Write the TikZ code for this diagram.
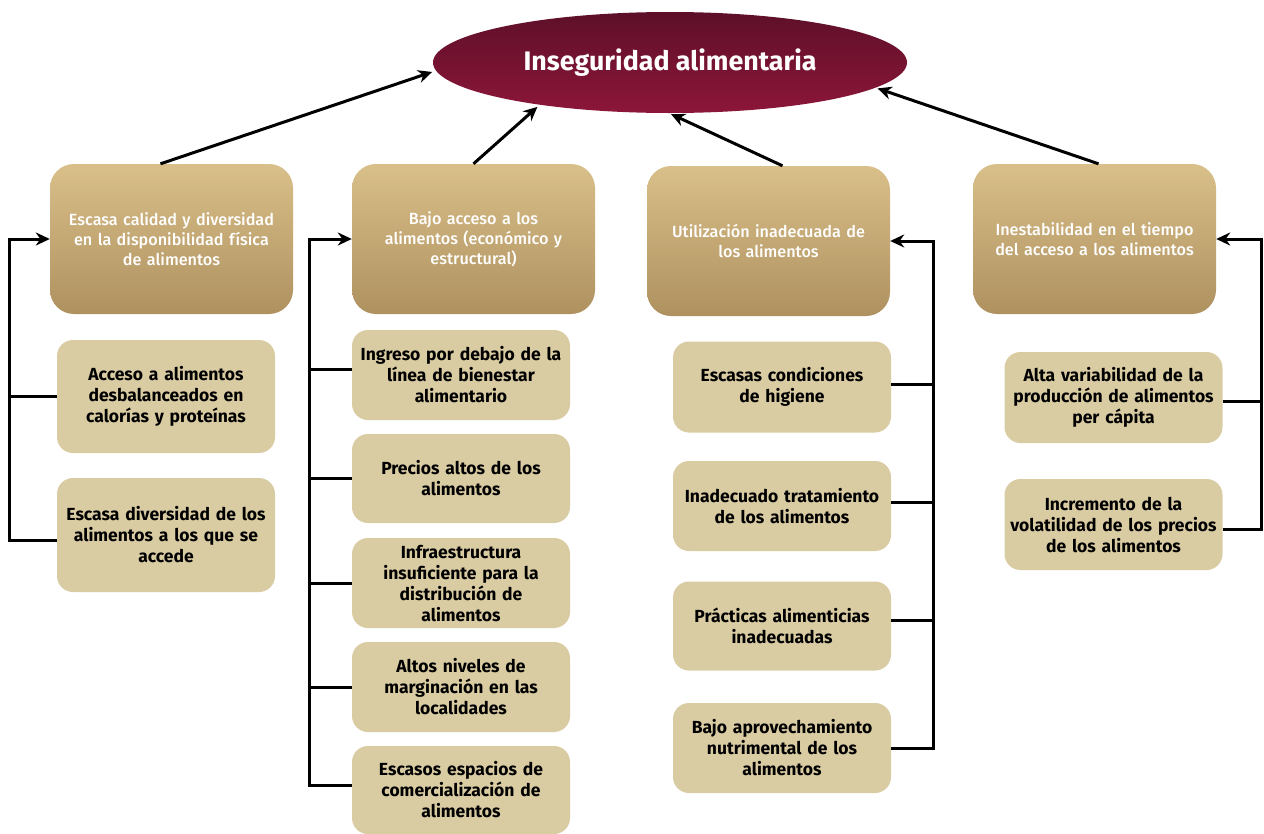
\documentclass[tikz,border=0pt]{standalone}
\usepackage{fontspec}
\setmainfont{Fira Sans}
\newfontfamily\hdfont{Fira Sans Medium}
\usetikzlibrary{arrows.meta,shapes.geometric}
\definecolor{hdtop}{HTML}{D9BF8A}
\definecolor{hdbot}{HTML}{AE915F}
\definecolor{chfill}{HTML}{D9CBA2}
\definecolor{eltop}{HTML}{5E1029}
\definecolor{elbot}{HTML}{8C1639}
\tikzset{
  header/.style={rounded corners=24pt, top color=hdtop, bottom color=hdbot, draw=none,
    minimum width=243pt, minimum height=150pt, text width=225pt, inner sep=0pt,
    align=center, text=white, font=\hdfont\fontsize{16.2}{20}\selectfont},
  child/.style={rounded corners=16pt, fill=chfill, draw=none,
    minimum width=218pt, text width=214pt, inner sep=0pt,
    align=center, text=black, font=\fontsize{17.5}{21}\selectfont\bfseries},
  arr/.style={line width=3pt, -{Stealth[length=14pt,width=13pt]}},
  ln/.style={line width=3pt},
}
\begin{document}
\begin{tikzpicture}[x=1pt,y=-1pt]
\useasboundingbox (0,0) rectangle (1264,833);
\fill[white] (0,0) rectangle (1264,833);
% title
\node[ellipse, top color=eltop, bottom color=elbot, minimum width=474pt, minimum height=101pt,
  inner sep=0pt, text=white, font=\fontsize{26.8}{30}\selectfont\bfseries] (E) at (670,62.5) {Inseguridad alimentaria};
% headers
\node[header] (H1) at (171.5,239) {Escasa calidad y diversidad\\ en la disponibilidad física\\ de alimentos};
\node[header] (H2) at (473.5,239) {Bajo acceso a los\\ alimentos (económico y\\ estructural)};
\node[header] (H3) at (768.5,241) {Utilización inadecuada de\\ los alimentos};
\node[header] (H4) at (1094.5,239) {Inestabilidad en el tiempo\\ del acceso a los alimentos};
% column 1
\node[child, minimum height=113pt] (A1) at (166,396.5) {Acceso a alimentos\\ desbalanceados en\\ calorías y proteínas};
\node[child, minimum height=114pt] (A2) at (166,535) {Escasa diversidad de los\\ alimentos a los que se\\ accede};
% column 2
\node[child, minimum height=90pt] (B1) at (461,375) {Ingreso por debajo de la\\ línea de bienestar\\ alimentario};
\node[child, minimum height=89pt] (B2) at (461,478.5) {Precios altos de los\\ alimentos};
\node[child, minimum height=90pt] (B3) at (461,583) {Infraestructura\\ insuficiente para la\\ distribución de\\ alimentos};
\node[child, minimum height=90pt] (B4) at (461,687) {Altos niveles de\\ marginación en las\\ localidades};
\node[child, minimum height=88pt] (B5) at (461,790) {Escasos espacios de\\ comercialización de\\ alimentos};
% column 3
\node[child, minimum height=91pt] (C1) at (782,387) {Escasas condiciones\\ de higiene};
\node[child, minimum height=90pt] (C2) at (782,506) {Inadecuado tratamiento\\ de los alimentos};
\node[child, minimum height=89pt] (C3) at (782,626) {Prácticas alimenticias\\ inadecuadas};
\node[child, minimum height=90pt] (C4) at (782,748) {Bajo aprovechamiento\\ nutrimental de los\\ alimentos};
% column 4
\node[child, minimum height=91pt, text width=218pt] (D1) at (1113.5,397.5) {Alta variabilidad de la\\ producción de alimentos\\ per cápita};
\node[child, minimum height=91pt, text width=218pt] (D2) at (1113.5,524.5) {Incremento de la\\ volatilidad de los precios\\ de los alimentos};
% connectors to title
\draw[arr, shorten >=4pt] ([xshift=-11pt]H1.north) -- (E.182);
\draw[arr, shorten >=3pt] (H2.north) -- (E.198);
\draw[arr, shorten >=2pt] ([xshift=14pt]H3.north) -- (E.269);
\draw[arr, shorten >=2pt] ([xshift=4pt]H4.north) -- (E.353);
% column 1 connectors
\draw[arr] ([yshift=-5pt]A2.west) -- ++(-47,0) |- (H1.west);
\draw[ln] (A1.west) -- ++(-47,0);
% column 2
\draw[arr] ([yshift=5pt]B5.west) -- ++(-42,0) |- (H2.west);
\draw[ln] ([yshift=6pt]B1.west) -- ++(-42,0);
\draw[ln] (B2.west) -- ++(-42,0);
\draw[ln] (B3.west) -- ++(-42,0);
\draw[ln] (B4.west) -- ++(-42,0);
% column 3
\draw[arr] (C4.east) -- ++(42,0) |- (H3.east);
\draw[ln] ([yshift=3pt]C1.east) -- ++(42,0);
\draw[ln] ([yshift=4pt]C2.east) -- ++(42,0);
\draw[ln] ([yshift=6pt]C3.east) -- ++(42,0);
% column 4
\draw[arr] ([yshift=-5pt]D2.east) -- ++(39,0) |- (H4.east);
\draw[ln] ([yshift=-4pt]D1.east) -- ++(39,0);
\end{tikzpicture}
\end{document}
